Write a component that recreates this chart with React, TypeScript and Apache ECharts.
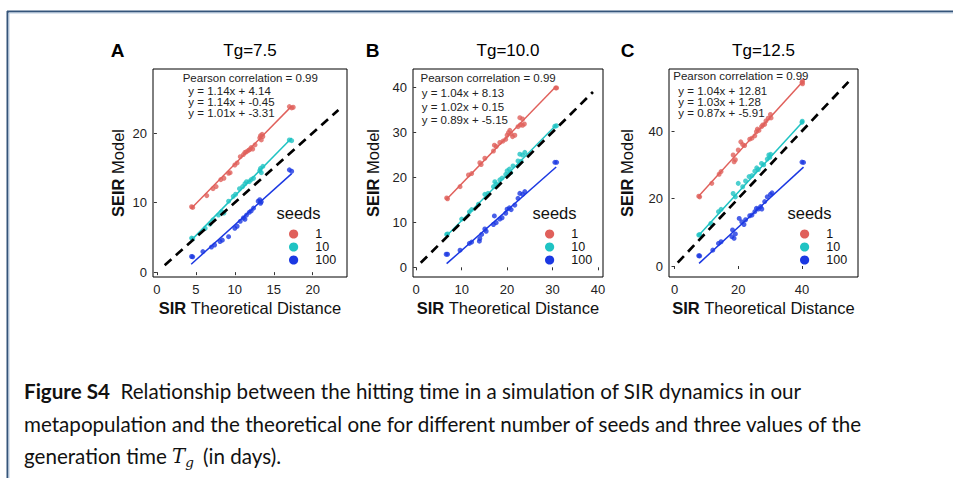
import React, { useEffect, useRef } from "react";
import * as echarts from "echarts";

const panelLetters = ["A", "B", "C"];
const panelTitles = ["Tg=7.5", "Tg=10.0", "Tg=12.5"];
const seedLabels = ["1", "10", "100"];
const seedColors = ["#E0605B", "#1FC3C3", "#1B38E2"];
const pearson = [0.99, 0.99, 0.99];
const slopes = [
  [1.14, 1.14, 1.01],
  [1.04, 1.02, 0.89],
  [1.04, 1.03, 0.87],
];
const intercepts = [
  [4.14, -0.45, -3.31],
  [8.13, 0.15, -5.15],
  [12.81, 1.28, -5.91],
];
const fitXRange = [
  [4.4, 17.3],
  [6.7, 30.8],
  [7.7, 40.5],
];
const diagRange = [
  [1, 23.3],
  [1, 38.9],
  [1, 54.6],
];
const xTicks = [
  [0, 5, 10, 15, 20],
  [0, 10, 20, 30, 40],
  [0, 20, 40],
];
const yTicks = [
  [0, 10, 20],
  [0, 10, 20, 30, 40],
  [0, 20, 40],
];
const xExtent = [
  [-0.5, 24.4],
  [-0.7, 41.1],
  [-1.74, 57.6],
];
const yExtent = [
  [-0.7, 29.2],
  [-2.15, 44],
  [-3.26, 58.4],
];

// Panel A (Tg=7.5)
const aSeed1 = [[4.45, 9.4], [4.6, 9.3], [6.4, 11.0], [7.2, 12.0], [7.6, 12.3], [8.2, 13.3], [8.6, 13.5], [9.2, 14.2], [9.4, 14.3], [10.0, 15.4], [10.3, 15.7], [10.7, 16.6], [11.1, 16.9], [11.3, 17.2], [11.5, 17.3], [11.75, 17.5], [11.9, 17.6], [12.1, 17.9], [12.3, 17.7], [12.6, 18.3], [13.2, 19.3], [13.3, 19.6], [13.4, 19.0], [13.5, 19.8], [13.6, 19.5], [17.0, 23.8], [17.3, 23.6], [17.5, 23.7]];
const aSeed10 = [[4.45, 4.9], [4.6, 4.8], [6.2, 6.3], [6.8, 6.9], [7.2, 7.5], [7.9, 8.2], [8.3, 8.7], [8.6, 8.5], [9.2, 10.2], [9.8, 10.9], [10.1, 11.2], [10.6, 12.0], [11.0, 12.3], [11.3, 12.7], [11.5, 13.0], [11.85, 13.0], [12.1, 13.3], [12.4, 13.5], [13.2, 14.6], [13.3, 14.9], [13.4, 14.3], [13.6, 15.2], [17.0, 19.0], [17.3, 18.9]];
const aSeed100 = [[4.45, 2.25], [4.6, 2.2], [5.9, 2.95], [7.0, 3.6], [7.4, 3.9], [8.1, 4.4], [8.4, 4.6], [9.2, 5.1], [10.0, 6.3], [10.3, 6.6], [10.7, 7.3], [11.1, 7.8], [11.3, 7.6], [11.5, 8.2], [11.85, 8.6], [12.1, 8.8], [12.4, 9.2], [13.0, 10.2], [13.2, 10.4], [13.4, 10.1], [13.3, 9.9], [17.0, 14.7], [17.3, 14.5]];

// Panel B (Tg=10.0)
const bSeed1 = [[6.7, 15.4], [6.9, 15.2], [9.65, 17.9], [11.5, 20.5], [12.2, 20.8], [14.0, 23.2], [14.3, 22.8], [15.1, 24.2], [17.0, 25.8], [17.2, 27.1], [17.6, 26.8], [18.4, 27.7], [19.1, 28.0], [19.7, 28.4], [20.0, 29.3], [20.3, 29.9], [20.6, 30.4], [20.9, 29.6], [21.2, 29.0], [21.7, 29.3], [22.4, 31.2], [22.9, 31.6], [22.8, 33.2], [23.4, 32.9], [23.8, 31.8], [23.4, 31.5], [30.7, 39.8], [30.9, 39.8]];
const bSeed10 = [[6.7, 7.3], [6.9, 7.4], [10.0, 10.7], [11.7, 12.3], [12.2, 12.8], [13.7, 14.0], [15.1, 16.2], [15.8, 16.4], [17.0, 17.9], [17.3, 19.0], [17.6, 18.5], [18.4, 19.4], [18.9, 19.8], [19.7, 20.6], [20.0, 21.4], [20.5, 21.8], [20.8, 21.0], [21.3, 22.5], [22.4, 23.6], [22.8, 25.1], [23.4, 24.9], [23.9, 25.5], [23.1, 23.5], [30.5, 31.3], [30.85, 31.4]];
const bSeed100 = [[6.6, 2.9], [6.9, 2.9], [9.65, 3.8], [11.7, 5.3], [12.2, 5.6], [13.9, 5.8], [14.0, 6.4], [14.4, 7.3], [15.1, 8.5], [15.4, 8.0], [17.0, 9.5], [17.2, 11.4], [17.6, 9.9], [18.4, 10.7], [18.9, 11.0], [19.7, 12.0], [20.0, 12.9], [20.5, 13.2], [20.9, 12.8], [21.7, 13.8], [22.4, 15.3], [22.8, 16.4], [23.4, 16.2], [23.9, 16.8], [30.5, 23.3], [30.9, 23.3]];

// Panel C (Tg=12.5)
const cSeed1 = [[7.6, 20.7], [7.9, 20.5], [11.7, 24.5], [14.0, 27.2], [14.6, 28.0], [18.4, 32.9], [18.7, 30.9], [19.1, 31.5], [20.0, 34.4], [20.8, 36.8], [21.4, 36.0], [22.0, 35.7], [23.6, 37.6], [24.3, 37.9], [25.2, 38.6], [25.7, 39.8], [26.0, 40.6], [26.5, 40.2], [27.3, 41.3], [27.7, 41.8], [28.3, 42.0], [28.7, 43.0], [29.4, 43.8], [30.1, 44.9], [30.3, 43.9], [40.0, 54.4], [40.2, 54.8], [40.2, 54.0]];
const cSeed10 = [[7.6, 9.2], [7.9, 9.3], [11.4, 12.6], [13.8, 16.1], [14.6, 16.8], [18.4, 21.5], [19.1, 20.5], [20.0, 24.5], [21.4, 23.5], [22.3, 25.2], [23.4, 26.5], [24.3, 26.8], [25.2, 28.1], [25.8, 29.1], [26.3, 28.6], [27.3, 30.4], [28.0, 30.0], [29.1, 31.7], [29.6, 32.9], [30.2, 33.1], [29.9, 32.2], [40.0, 42.6], [40.1, 42.9]];
const cSeed100 = [[7.6, 3.05], [7.9, 3.0], [12.0, 4.7], [13.8, 6.7], [14.6, 7.2], [18.2, 10.7], [18.0, 8.7], [18.7, 8.2], [19.1, 9.5], [20.3, 14.1], [21.1, 13.1], [21.8, 12.3], [22.3, 13.7], [23.6, 14.9], [24.3, 15.1], [25.2, 16.1], [25.7, 17.1], [26.3, 16.9], [27.0, 17.6], [27.4, 16.9], [28.3, 19.1], [29.1, 20.5], [30.1, 21.2], [30.6, 21.7], [40.5, 30.7], [40.0, 30.8]];

const panelPoints = [
  [aSeed1, aSeed10, aSeed100],
  [bSeed1, bSeed10, bSeed100],
  [cSeed1, cSeed10, cSeed100],
];

const captionLines = [
  "Relationship between the hitting time in a simulation of SIR dynamics in our",
  "metapopulation and the theoretical one for different number of seeds and three values of the",
];

const FONT = "'Liberation Sans', Arial, Helvetica, sans-serif";
const CAPFONT = "Lato, 'Open Sans', sans-serif";
const CAPSIZE = 20.6;

const boxes = [
  { left: 153, top: 69, width: 194, height: 208 },
  { left: 413, top: 69, width: 190, height: 208 },
  { left: 669, top: 69, width: 189, height: 208 },
];
const annot = [
  { px: 182.7, py: 78.3, ex: 188.3, ey: [90.7, 101.7, 112.7] },
  { px: 420.5, py: 78.3, ex: 421.7, ey: [92.5, 106.5, 120] },
  { px: 673.3, py: 75.7, ex: 678.3, ey: [90.5, 101.7, 113.3] },
];
const yNameGaps = [27, 32, 33.5];
const letterX = [117.5, 372.5, 627.5];

function fmtEq(s: number, b: number) {
  return "y = " + s.toFixed(2) + "x + " + b.toFixed(2);
}

export default function App() {
  const ref = useRef<HTMLDivElement>(null);
  useEffect(() => {
    document.body.style.margin = "0";
    const chart = echarts.init(ref.current!, null, { renderer: "svg" });

    const grid: any[] = [];
    const xAxis: any[] = [];
    const yAxis: any[] = [];
    const series: any[] = [];
    const graphic: any[] = [];

    // page border
    graphic.push({ type: "line", shape: { x1: 7, y1: 11.5, x2: 953, y2: 11.5 }, style: { stroke: "#35557a", lineWidth: 2 } });
    graphic.push({ type: "line", shape: { x1: 9, y1: 13, x2: 953, y2: 13 }, style: { stroke: "#b9cbe0", lineWidth: 1 } });
    graphic.push({ type: "line", shape: { x1: 7.5, y1: 11, x2: 7.5, y2: 478 }, style: { stroke: "#35557a", lineWidth: 2 } });
    graphic.push({ type: "line", shape: { x1: 9, y1: 13, x2: 9, y2: 478 }, style: { stroke: "#b9cbe0", lineWidth: 1 } });

    for (let p = 0; p < 3; p++) {
      const b = boxes[p];
      grid.push({ ...b, show: true, borderColor: "#000", borderWidth: 1, backgroundColor: "transparent", containLabel: false });
      xAxis.push({
        type: "value",
        gridIndex: p,
        min: xExtent[p][0],
        max: xExtent[p][1],
        splitLine: { show: false },
        axisLine: { show: false },
        axisTick: { show: true, length: 3, lineStyle: { color: "#333", width: 1 }, customValues: xTicks[p] },
        axisLabel: { customValues: xTicks[p], margin: 6, fontSize: 13, color: "#222", fontFamily: FONT },
        name: "{b|SIR} Theoretical Distance",
        nameLocation: "middle",
        nameGap: 22,
        nameTextStyle: { fontSize: 16.5, color: "#111", fontFamily: FONT, rich: { b: { fontWeight: "bold", fontSize: 16.5, color: "#111", fontFamily: FONT } } },
      });
      yAxis.push({
        type: "value",
        gridIndex: p,
        min: yExtent[p][0],
        max: yExtent[p][1],
        splitLine: { show: false },
        axisLine: { show: false },
        axisTick: { show: true, length: 3, lineStyle: { color: "#333", width: 1 }, customValues: yTicks[p] },
        axisLabel: { customValues: yTicks[p], margin: 6, fontSize: 13, color: "#222", fontFamily: FONT },
        name: "{b|SEIR} Model",
        nameLocation: "middle",
        nameGap: yNameGaps[p],
        nameTextStyle: { fontSize: 16.5, color: "#111", fontFamily: FONT, rich: { b: { fontWeight: "bold", fontSize: 16.5, color: "#111", fontFamily: FONT } } },
      });

      // diagonal reference
      series.push({
        type: "line",
        xAxisIndex: p,
        yAxisIndex: p,
        data: [[diagRange[p][0], diagRange[p][0]], [diagRange[p][1], diagRange[p][1]]],
        symbol: "none",
        lineStyle: { color: "#000", width: 2.7, type: [9, 6] },
        z: 3,
        silent: true,
      });

      for (let s = 0; s < 3; s++) {
        const x0 = fitXRange[p][0];
        const x1 = fitXRange[p][1];
        series.push({
          type: "line",
          xAxisIndex: p,
          yAxisIndex: p,
          data: [[x0, slopes[p][s] * x0 + intercepts[p][s]], [x1, slopes[p][s] * x1 + intercepts[p][s]]],
          symbol: "none",
          lineStyle: { color: seedColors[s], width: 1.5 },
          z: 2,
          silent: true,
        });
        series.push({
          type: "scatter",
          name: seedLabels[s],
          xAxisIndex: p,
          yAxisIndex: p,
          data: panelPoints[p][s],
          symbol: "circle",
          symbolSize: 5,
          itemStyle: { color: seedColors[s] },
          z: 2,
          silent: true,
        });
      }

      const cx = b.left + b.width / 2;
      graphic.push({ type: "text", x: letterX[p], y: 50, style: { text: panelLetters[p], fontSize: 19, fontWeight: "bold", fontFamily: FONT, fill: "#000", align: "center", verticalAlign: "middle" } });
      graphic.push({ type: "text", x: cx, y: 50, style: { text: panelTitles[p], fontSize: 17, fontFamily: FONT, fill: "#000", align: "center", verticalAlign: "middle" } });

      const a = annot[p];
      graphic.push({ type: "text", x: a.px, y: a.py, style: { text: "Pearson correlation = " + pearson[p].toFixed(2), fontSize: 11.5, fontFamily: FONT, fill: "#222", align: "left", verticalAlign: "middle" }, z: 10 });
      for (let s = 0; s < 3; s++) {
        graphic.push({ type: "text", x: a.ex, y: a.ey[s], style: { text: fmtEq(slopes[p][s], intercepts[p][s]), fontSize: 11.5, fontFamily: FONT, fill: "#222", align: "left", verticalAlign: "middle", lineHeight: 11 }, z: 10 });
      }

      const right = b.left + b.width;
      graphic.push({ type: "text", x: right - 70.5, y: 212.7, style: { text: "seeds", fontSize: 16.5, fontFamily: FONT, fill: "#111", align: "left", verticalAlign: "middle" } });
      const ly = [234, 247, 260];
      for (let s = 0; s < 3; s++) {
        graphic.push({ type: "circle", shape: { cx: right - 53.4, cy: ly[s], r: 4.6 }, style: { fill: seedColors[s] } });
        graphic.push({ type: "text", x: right - 31.7, y: ly[s], style: { text: seedLabels[s], fontSize: 12.5, lineHeight: 12, fontFamily: FONT, fill: "#111", align: "left", verticalAlign: "middle" } });
      }
    }

    // caption
    graphic.push({
      type: "text",
      x: 24,
      y: 391,
      style: {
        text: "{b|Figure S4}  " + captionLines[0],
        fontSize: CAPSIZE,
        fontFamily: CAPFONT,
        fill: "#111",
        verticalAlign: "middle",
        rich: { b: { fontWeight: "bold", fontSize: CAPSIZE, fontFamily: CAPFONT, fill: "#111" } },
      },
    });
    graphic.push({ type: "text", x: 24, y: 423.5, style: { text: captionLines[1], fontSize: CAPSIZE, fontFamily: CAPFONT, fill: "#111", verticalAlign: "middle" } });
    graphic.push({
      type: "text",
      x: 24,
      y: 456,
      style: {
        text: "generation time {it|T}{sub|g} (in days).",
        fontSize: CAPSIZE,
        fontFamily: CAPFONT,
        fill: "#111",
        verticalAlign: "middle",
        lineHeight: 26,
        rich: {
          it: { fontStyle: "italic", fontFamily: "'DejaVu Serif', serif", fontSize: CAPSIZE - 1, fill: "#111", lineHeight: 26 },
          sub: { fontStyle: "italic", fontFamily: "'DejaVu Serif', serif", fontSize: 13.5, fill: "#111", verticalAlign: "bottom", lineHeight: 26, padding: [0, 4, 0, 0] },
        },
      },
    });

    chart.setOption({ animation: false, grid, xAxis, yAxis, series, graphic });
    return () => chart.dispose();
  }, []);
  return <div ref={ref} style={{ width: 953, height: 478 }} />;
}
